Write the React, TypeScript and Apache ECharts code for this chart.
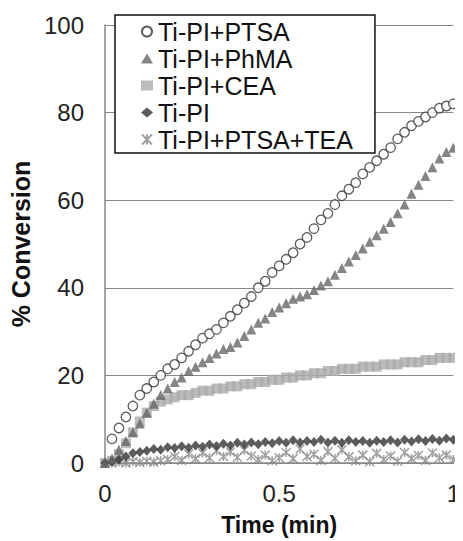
import React, { useEffect, useRef } from "react";
import * as echarts from "echarts";

const times = [0,0.02,0.04,0.06,0.08,0.1,0.12,0.14,0.16,0.18,0.2,0.22,0.24,0.26,0.28,0.3,0.32,0.34,0.36,0.38,0.4,0.42,0.44,0.46,0.48,0.5,0.52,0.54,0.56,0.58,0.6,0.62,0.64,0.66,0.68,0.7,0.72,0.74,0.76,0.78,0.8,0.82,0.84,0.86,0.88,0.9,0.92,0.94,0.96,0.98,1.0];

const ptsa = [null,5.5,8,10.5,13,15.5,17,18.5,20,21.5,22.5,24,25.5,27,28.5,29.5,30.5,32,33.5,35,36.5,38,40,41.5,43.5,45,46.5,48,50,51.5,53.5,55.5,57,59,61,62.5,64,66,67.5,69,70.5,72,74,75.5,77,78,79,80,81,81.5,82];
const phma = [0,1,3,5,7,9,11.5,13.5,15.5,17,18.5,19.5,21,22,23,24,25,26,26.5,27.5,29,30.5,32,33,34.5,35.5,36.5,37.5,38,38.5,39.5,40.5,41.5,43,44.5,46,47.5,49,50.5,52,53.5,55,57,59,61.5,63.5,65.5,67.5,69.5,71,72];
const cea = [0,0.5,2,4.5,7,9.5,11.5,13,14,14.5,15,15.5,15.5,16,16.5,16.5,17,17,17.5,17.5,18,18,18.5,18.5,19,19,19.5,19.5,20,20,20.5,20.5,21,21,21.5,21.5,21.5,22,22,22,22.5,22.5,22.5,23,23,23,23.5,23.5,24,24,24];
const tipi = [0,0.3,0.8,1.5,2.2,2.5,2.8,3.2,3.0,3.6,3.4,3.8,3.5,4.0,3.7,4.2,3.9,4.4,4.0,4.6,4.2,4.7,4.3,4.8,4.5,5.0,4.6,5.2,4.7,5.0,4.8,5.3,4.7,5.1,4.6,5.2,4.8,5.0,4.6,5.1,4.8,5.2,4.7,5.3,4.9,5.4,5.0,5.5,5.1,5.6,5.3];
const tea = [0,0,0.2,0,0.3,0.1,0.4,0.2,0.5,0.8,1.5,0.6,2.0,1.0,2.3,1.2,2.8,1.5,2.5,1.3,2.9,1.6,0.8,1.8,0.5,1.2,2.4,1.0,3.2,1.5,2.0,0.6,2.6,1.1,3.0,1.4,0.5,1.8,0.3,2.2,0.8,1.6,0.4,2.4,1.0,1.7,0.6,2.3,1.2,1.8,0.8];

const seriesNames = ["Ti-PI+PTSA", "Ti-PI+PhMA", "Ti-PI+CEA", "Ti-PI", "Ti-PI+PTSA+TEA"];
const yTicks = [0, 20, 40, 60, 80, 100];
const xTicks = [0, 0.5, 1];

const FONT = "'Liberation Sans', Arial, sans-serif";
const STAR = "path://M0,0L10,10M10,0L0,10M5,0L5,10";

function pairs(vals: (number | null)[]) {
  return times.map((t, i) => [t, vals[i] === null ? "-" : vals[i]]);
}

export default function App() {
  const ref = useRef<HTMLDivElement>(null);
  useEffect(() => {
    if (!ref.current) return;
    const chart = echarts.init(ref.current, null, { renderer: "svg" });
    chart.setOption({
      animation: false,
      backgroundColor: "#fff",
      grid: { left: 105, right: 6, top: 25, bottom: 78 },
      legend: {
        left: 115,
        top: 15,
        orient: "vertical",
        borderColor: "#111",
        borderWidth: 1.5,
        backgroundColor: "#fff",
        padding: [3, 22, 0, 26],
        itemGap: 0,
        itemWidth: 12,
        itemHeight: 10,
        textStyle: { fontFamily: FONT, fontSize: 25, color: "#111", lineHeight: 27 },
        data: seriesNames,
      },
      xAxis: {
        type: "value",
        min: xTicks[0],
        max: xTicks[xTicks.length - 1],
        interval: 0.5,
        name: "Time (min)",
        nameLocation: "middle",
        nameGap: 50,
        nameTextStyle: { fontFamily: FONT, fontSize: 23, fontWeight: "bold", color: "#111" },
        axisLine: { show: true, lineStyle: { color: "#888", width: 1.5 } },
        axisTick: { show: false },
        splitLine: { show: false },
        axisLabel: { fontFamily: FONT, fontSize: 24, color: "#222", margin: 18 },
      },
      yAxis: {
        type: "value",
        min: yTicks[0],
        max: yTicks[yTicks.length - 1],
        interval: 20,
        name: "% Conversion",
        nameLocation: "middle",
        nameGap: 72,
        nameTextStyle: { fontFamily: FONT, fontSize: 25, fontWeight: "bold", color: "#111" },
        axisLine: { show: true, lineStyle: { color: "#888", width: 1.5 } },
        axisTick: { show: false },
        splitLine: { show: true, lineStyle: { color: "#888", width: 1.2 } },
        axisLabel: { fontFamily: FONT, fontSize: 24, color: "#222", margin: 21 },
      },
      series: [
        {
          name: seriesNames[0],
          type: "scatter",
          data: pairs(ptsa),
          symbol: "circle",
          symbolSize: 9.5,
          itemStyle: { color: "#fff", borderColor: "#333", borderWidth: 1.3 },
          z: 5,
        },
        {
          name: seriesNames[1],
          type: "scatter",
          data: pairs(phma),
          symbol: "triangle",
          symbolSize: 10,
          itemStyle: { color: "#666" },
          z: 4,
        },
        {
          name: seriesNames[2],
          type: "scatter",
          data: pairs(cea),
          symbol: "rect",
          symbolSize: 10,
          itemStyle: { color: "#aaa" },
          z: 3,
        },
        {
          name: seriesNames[3],
          type: "scatter",
          data: pairs(tipi),
          symbol: "diamond",
          symbolSize: [9, 10],
          itemStyle: { color: "#333" },
          z: 3,
        },
        {
          name: seriesNames[4],
          type: "scatter",
          data: pairs(tea),
          symbol: STAR,
          symbolSize: 9,
          itemStyle: { color: "transparent", borderColor: "#888", borderWidth: 1.5 },
          z: 2,
        },
      ],
    });
    return () => chart.dispose();
  }, []);
  return <div ref={ref} style={{ width: 463, height: 541, marginLeft: -8, marginTop: -8 }} />;
}
